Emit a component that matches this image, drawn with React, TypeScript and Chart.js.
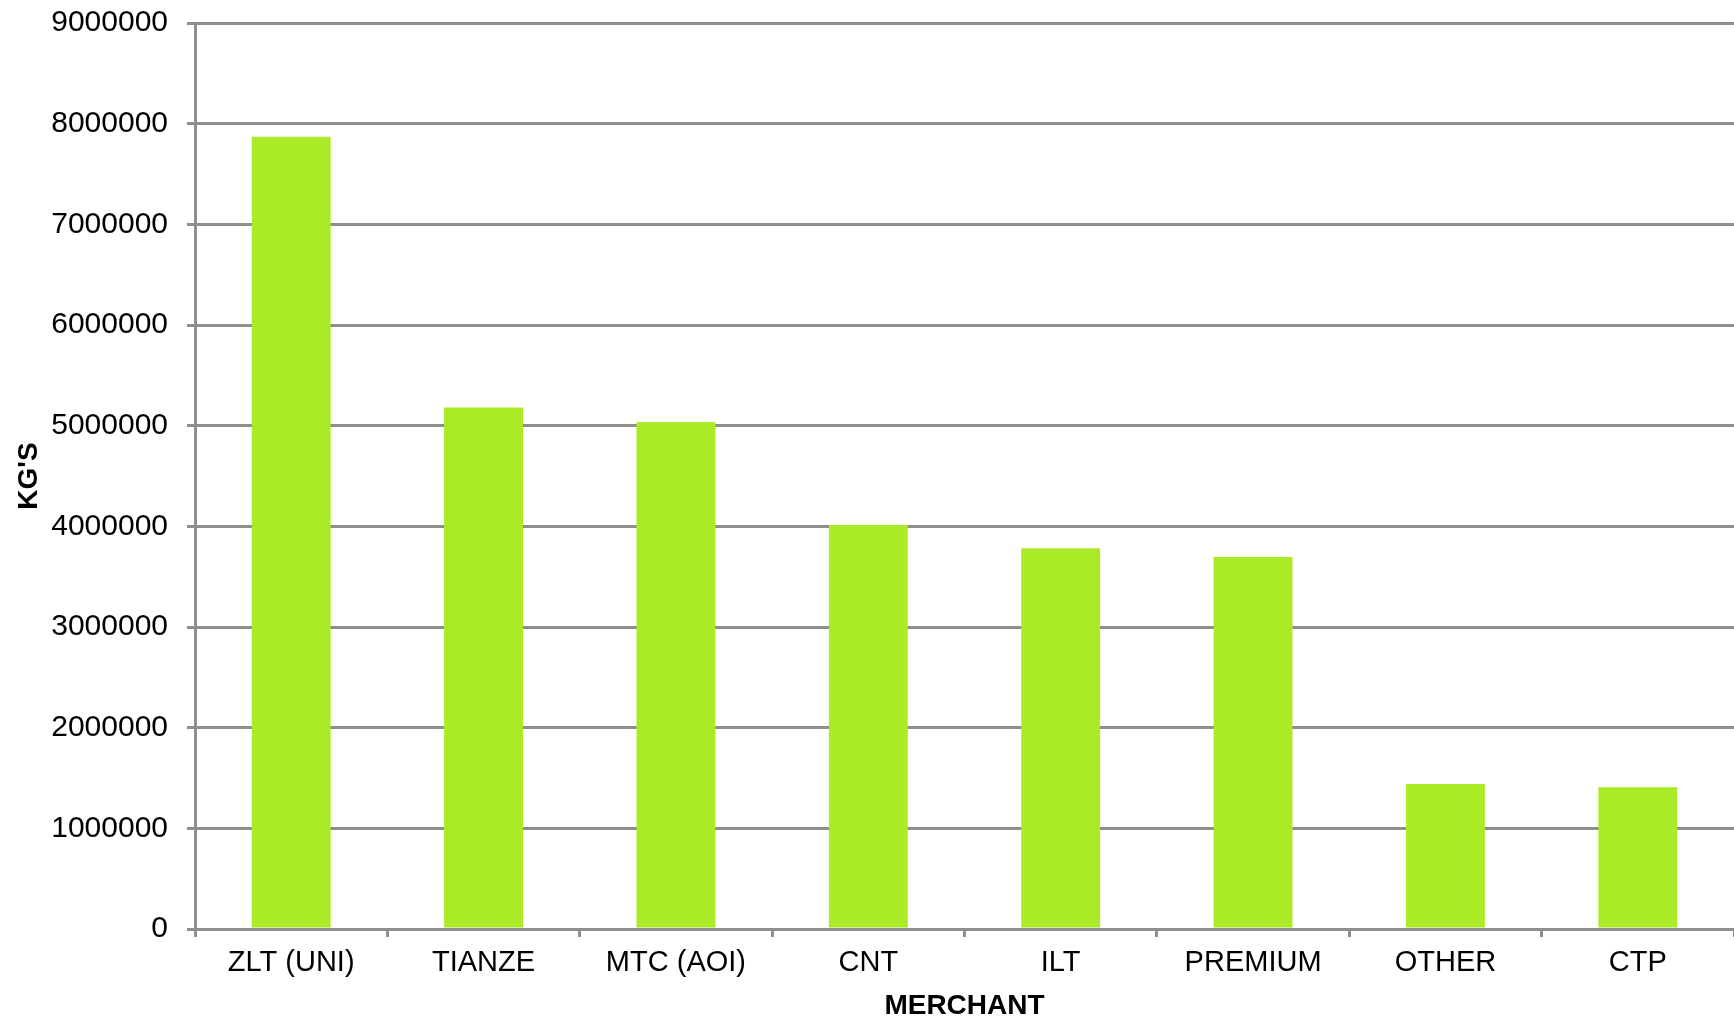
import React, { useEffect, useRef } from "react";
import { Chart, registerables } from "chart.js";

Chart.register(...registerables);

const categories = ["ZLT (UNI)", "TIANZE", "MTC (AOI)", "CNT", "ILT", "PREMIUM", "OTHER", "CTP"];
const kgValues = [7870000, 5180000, 5037000, 4013000, 3783000, 3695000, 1440000, 1407000];
const yMin = 0;
const yMax = 9000000;
const yStep = 1000000;
const xTitle = "MERCHANT";
const yTitle = "KG'S";

export default function App() {
  const ref = useRef<HTMLCanvasElement | null>(null);

  useEffect(() => {
    document.body.style.margin = "0";
    const canvas = ref.current;
    if (!canvas) return;
    const gridColor = "#8e8e8e";
    const font = "'Liberation Sans', Arial, sans-serif";
    const chart = new Chart(canvas, {
      type: "bar",
      data: {
        labels: categories,
        datasets: [
          {
            label: yTitle,
            data: kgValues,
            backgroundColor: "#aaea27",
            borderWidth: 0,
            barPercentage: 0.41,
            categoryPercentage: 1,
          },
        ],
      },
      options: {
        animation: false,
        responsive: false,
        devicePixelRatio: 1,
        events: [],
        layout: { padding: { top: 23, right: 0, bottom: 0, left: 0 } },
        plugins: {
          legend: { display: false },
          tooltip: { enabled: false },
          title: { display: false },
        },
        scales: {
          x: {
            offset: true,
            grid: {
              display: true,
              offset: true,
              drawOnChartArea: false,
              drawTicks: true,
              tickLength: 8,
              color: gridColor,
              lineWidth: 3,
            },
            border: { display: true, color: gridColor, width: 3 },
            ticks: {
              color: "#000",
              font: { family: font, size: 29 },
              padding: 9,
              maxRotation: 0,
              autoSkip: false,
            },
            title: {
              display: true,
              text: xTitle,
              color: "#000",
              font: { family: font, size: 28, weight: "bold", lineHeight: 1.0 },
              padding: { top: 0, bottom: 0 },
            },
            afterFit: (scale: any) => {
              scale.height = 91;
              scale.paddingLeft = 0;
              scale.paddingRight = 0;
            },
          },
          y: {
            min: yMin,
            max: yMax,
            grid: {
              display: true,
              drawTicks: true,
              tickLength: 8,
              color: gridColor,
              lineWidth: 3,
            },
            border: { display: true, color: gridColor, width: 3 },
            ticks: {
              stepSize: yStep,
              color: "#000",
              font: { family: font, size: 30 },
              padding: 19,
              callback: (v: any) => String(v),
            },
            title: {
              display: true,
              text: yTitle,
              color: "#000",
              font: { family: font, size: 28, weight: "bold" },
              padding: { top: 12, bottom: 0 },
            },
            afterFit: (scale: any) => {
              scale.width = 195;
              scale.paddingTop = 0;
              scale.paddingBottom = 0;
            },
          },
        },
      },
    });
    return () => chart.destroy();
  }, []);

  return (
    <div style={{ width: 1734, height: 1020, background: "#fff" }}>
      <canvas ref={ref} width={1734} height={1020} style={{ display: "block" }} />
    </div>
  );
}
